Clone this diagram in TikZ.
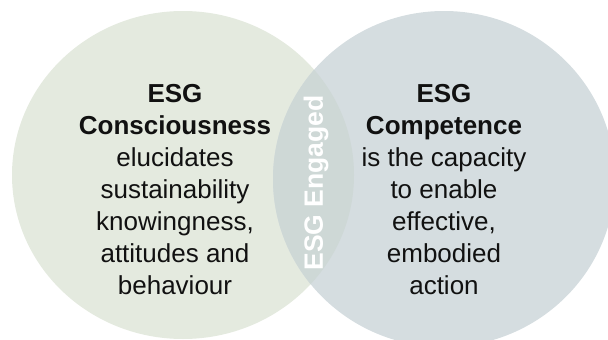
\documentclass[tikz,border=0pt]{standalone}
\usepackage{fontspec}
\setmainfont{Liberation Sans}
\definecolor{consfill}{HTML}{E4EADF}
\definecolor{compfill}{HTML}{D5DDE0}
\definecolor{lensfill}{HTML}{CED8D6}
\definecolor{inktext}{HTML}{111111}
\begin{document}
\begin{tikzpicture}[x=1pt,y=-1pt,
  bodytext/.style={align=center, text=inktext, inner sep=0pt,
    font=\fontsize{26}{32}\selectfont},
  engagedtext/.style={text=white, inner sep=0pt, rotate=90,
    font=\fontsize{26.5}{30}\selectfont\bfseries}]
  \useasboundingbox (0,0) rectangle (608,340);
  \clip (0,0) rectangle (608,340);
  % the two overlapping circles
  \fill[consfill] (183,175) ellipse [x radius=171pt, y radius=164pt];
  \fill[compfill] (444,179) ellipse [x radius=171pt, y radius=168pt];
  % their overlap
  \begin{scope}
    \clip (183,175) ellipse [x radius=171pt, y radius=164pt];
    \fill[lensfill] (444,179) ellipse [x radius=171pt, y radius=168pt];
  \end{scope}
  % labels
  \node[bodytext] (consciousness) at (175,190)
    {\textbf{ESG}\\\textbf{Consciousness}\\elucidates\\sustainability\\knowingness,\\attitudes and\\behaviour};
  \node[bodytext] (competence) at (444,190)
    {\textbf{ESG}\\\textbf{Competence}\\is the capacity\\to enable\\effective,\\embodied\\action};
  \node[engagedtext] (engaged) at (316,183) {ESG Engaged};
\end{tikzpicture}
\end{document}
